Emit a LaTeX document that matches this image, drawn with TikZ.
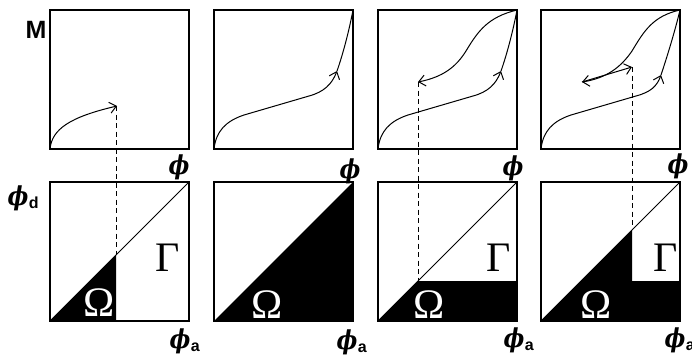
\documentclass[tikz,border=0pt]{standalone}
\usepackage{fontspec}
\usepackage{graphicx}
\setsansfont{Liberation Sans}
\newfontfamily\grkfont{Liberation Serif}
\newfontfamily\phifont{DejaVu Serif}
\usetikzlibrary{arrows.meta}
\newcommand\phis{\scalebox{0.85}[1]{\phifont\bfseries\itshape ϕ}}
\begin{document}
\begin{tikzpicture}[x=1pt,y=1pt,
  frame/.style={line width=1.2pt},
  curve/.style={line width=1pt},
  diag/.style={line width=0.8pt},
  arr/.style={-{Straight Barb[length=6.5pt,width=11pt]}},
  dashln/.style={line width=1pt,dash pattern=on 5pt off 3.5pt},
  omeg/.style={text=white,font=\grkfont\fontsize{42}{42}\selectfont,inner sep=0pt},
  gam/.style={font=\grkfont\fontsize{42}{42}\selectfont,inner sep=0pt},
  phil/.style={inner sep=0pt,font=\fontsize{26}{26}\selectfont},
  subl/.style={inner sep=0pt,font=\sffamily\bfseries\fontsize{16}{16}\selectfont},
]
\useasboundingbox (0,0) rectangle (692,360);
% ---------- panel 1 ----------
\begin{scope}[shift={(50,211)}]
  \draw[frame] (0,0) rectangle (139,139);
  \draw[curve,arr] (0,0) .. controls (2,20) and (20,32) .. (67,43);
  \coordinate (t1) at (66,43);
\end{scope}
\begin{scope}[shift={(50,39)}]
  \fill (0,0) -- (66,66) -- (66,0) -- cycle;
  \draw[frame] (0,0) rectangle (139,139);
  \draw[diag] (0,0) -- (139,139);
  \coordinate (b1) at (66,66);
  \node[omeg] (om1) at (49,18) {Ω};
  \node[gam] (ga1) at (118,63) {Γ};
\end{scope}
\draw[dashln] (t1) -- (b1);
% ---------- panel 2 ----------
\begin{scope}[shift={(214,211)}]
  \draw[frame] (0,0) rectangle (139,139);
  \draw[curve,arr] (0,0) .. controls (2,18) and (12,28) .. (30,34) -- (95,53) .. controls (110,57) and (118,65) .. (123,78);
  \draw[curve] (123,78) .. controls (129,95) and (135,118) .. (139,139);
\end{scope}
\begin{scope}[shift={(214,39)}]
  \fill (0,0) -- (139,139) -- (139,0) -- cycle;
  \draw[frame] (0,0) rectangle (139,139);
  \node[omeg] (om2) at (53,16) {Ω};
\end{scope}
% ---------- panel 3 ----------
\begin{scope}[shift={(378,211)}]
  \draw[frame] (0,0) rectangle (139,139);
  \draw[curve,arr] (0,0) .. controls (2,18) and (12,28) .. (30,34) -- (95,53) .. controls (110,57) and (118,65) .. (123,78);
  \draw[curve] (123,78) .. controls (129,95) and (135,118) .. (139,139);
  \draw[curve,arr] (139,139) .. controls (110,132) and (100,118) .. (88,98) .. controls (78,82) and (65,72) .. (40,67);
  \coordinate (t3) at (40,67);
\end{scope}
\begin{scope}[shift={(378,39)}]
  \fill (0,0) -- (40,40) -- (139,40) -- (139,0) -- cycle;
  \draw[frame] (0,0) rectangle (139,139);
  \draw[diag] (0,0) -- (139,139);
  \coordinate (b3) at (40,40);
  \node[omeg] (om3) at (51,16) {Ω};
  \node[gam] (ga3) at (121,63) {Γ};
\end{scope}
\draw[dashln] (t3) -- (b3);
% ---------- panel 4 ----------
\begin{scope}[shift={(541,211)}]
  \draw[frame] (0,0) rectangle (139,139);
  \draw[curve,arr] (0,0) .. controls (2,18) and (12,28) .. (30,34) -- (95,53) .. controls (110,57) and (116,63) .. (120,74);
  \draw[curve] (120,74) .. controls (126,92) and (134,118) .. (139,139);
  \draw[curve,arr] (139,139) .. controls (112,133) and (103,118) .. (91,98) .. controls (80,82) and (66,71) .. (41,67);
  \coordinate (r4) at (41,67);
  \coordinate (t4) at (91,82);
  \draw[curve,arr] (r4) -- (t4);
\end{scope}
\begin{scope}[shift={(541,39)}]
  \fill (0,0) -- (91,91) -- (91,40) -- (139,40) -- (139,0) -- cycle;
  \draw[frame] (0,0) rectangle (139,139);
  \draw[diag] (0,0) -- (139,139);
  \coordinate (b4) at (91,91);
  \node[omeg] (om4) at (55,16) {Ω};
  \node[gam] (ga4) at (125,63) {Γ};
\end{scope}
\draw[dashln] (t4) -- (b4);
% ---------- labels ----------
\node[inner sep=0pt,font=\sffamily\bfseries\fontsize{25}{25}\selectfont] (M) at (36,330) {M};
\node[phil] (p1) at (179,193) {\phis};
\node[phil] (p2) at (350,189) {\phis};
\node[phil] (p3) at (513,192) {\phis};
\node[phil] (p4) at (678,194) {\phis};
\node[phil] (pd) at (18,162) {\phis};
\node[subl,anchor=west] (sd) at ([xshift=0pt,yshift=-5pt]pd.east) {d};
\node[phil] (pa1) at (180,19) {\phis};
\node[subl,anchor=west] (sa1) at ([xshift=0pt,yshift=-6pt]pa1.east) {a};
\node[phil] (pa2) at (347,18) {\phis};
\node[subl,anchor=west] (sa2) at ([xshift=0pt,yshift=-6pt]pa2.east) {a};
\node[phil] (pa3) at (514,20) {\phis};
\node[subl,anchor=west] (sa3) at ([xshift=0pt,yshift=-6pt]pa3.east) {a};
\node[phil] (pa4) at (675,20) {\phis};
\node[subl,anchor=west] (sa4) at ([xshift=0pt,yshift=-6pt]pa4.east) {a};
\end{tikzpicture}
\end{document}
